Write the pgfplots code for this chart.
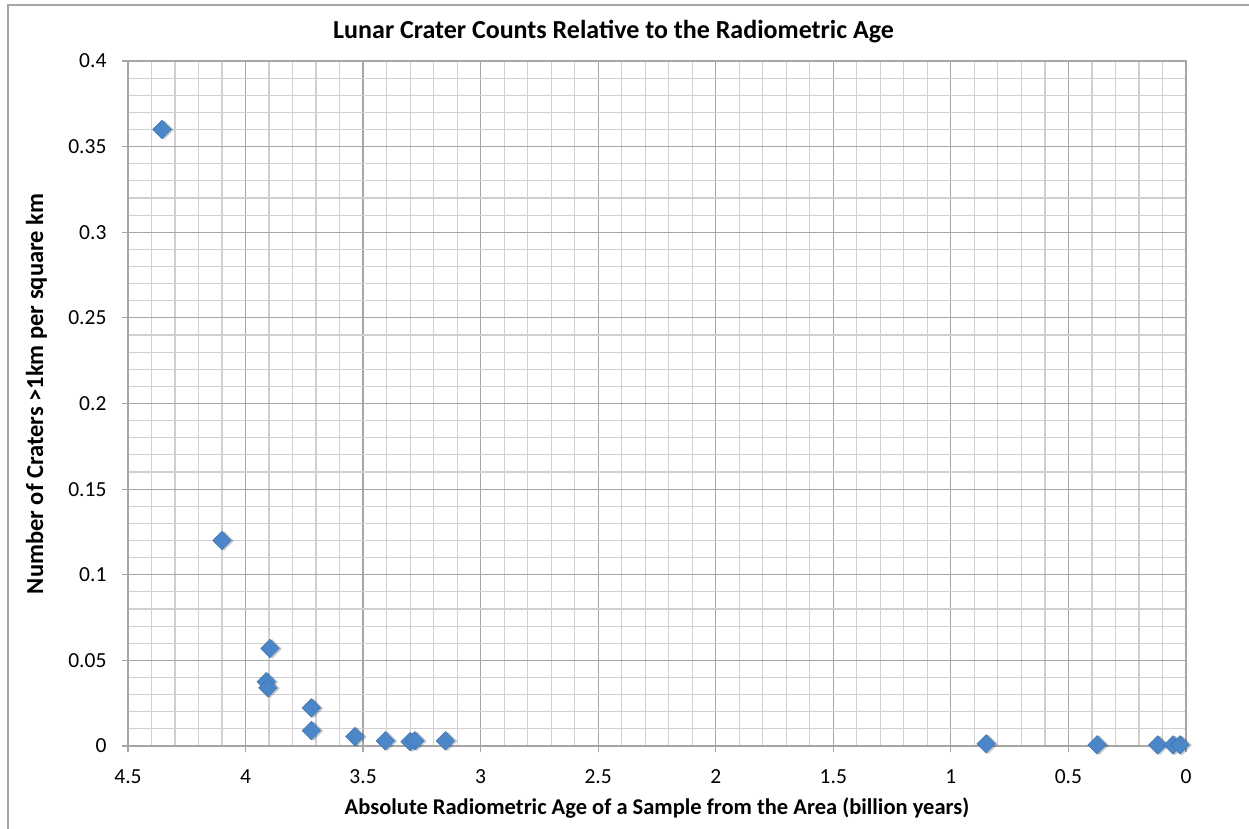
\documentclass[border=0pt]{standalone}
\usepackage{pgfplots}
\pgfplotsset{compat=1.18}
\usepackage{fontspec}
\setmainfont{Carlito}
\definecolor{ptblue}{HTML}{4A86C8}
\definecolor{majgrid}{HTML}{A6A6A6}
\definecolor{mingrid}{HTML}{D0D0D0}
\begin{document}
\begin{tikzpicture}
\useasboundingbox (0,0) rectangle (1249pt,829pt);
\draw[color=majgrid,line width=1.5pt] (8pt,0) -- (8pt,824pt) -- (1249pt,824pt);
\begin{axis}[
  at={(128pt,83pt)}, anchor=south west,
  scale only axis, width=1058pt, height=685pt,
  x dir=reverse,
  xmin=0, xmax=4.5, ymin=0, ymax=0.4,
  xtick={0,0.5,...,4.5},
  ytick={0,0.05,...,0.4},
  minor x tick num=4, minor y tick num=4,
  xticklabels={0,0.5,1,1.5,2,2.5,3,3.5,4,4.5},
  yticklabels={0,0.05,0.1,0.15,0.2,0.25,0.3,0.35,0.4},
  grid=both,
  major grid style={color=majgrid,line width=1.2pt},
  minor grid style={color=mingrid,line width=1.2pt},
  axis line style={color=majgrid,line width=1.5pt},
  tick style={color=majgrid,line width=1.2pt},
  minor tick style={draw=none},
  tick align=outside, major tick length=6pt,
  xtick pos=bottom, ytick pos=left,
  tick label style={font=\fontsize{21.5}{24}\selectfont},
  xticklabel style={yshift=-14pt},
  yticklabel style={xshift=-12pt},
  /pgf/number format/assume math mode=true,
  xlabel={Absolute Radiometric Age of a Sample from the Area (billion years)},
  ylabel={Number of Craters >1km per square km},
  xlabel style={font=\bfseries\fontsize{22.5}{26}\selectfont, at={(axis description cs:0.5,-0.0905)}, anchor=center},
  ylabel style={font=\bfseries\fontsize{24.5}{28}\selectfont, at={(axis description cs:-0.0866,0.514)}, anchor=center},
  title={Lunar Crater Counts Relative to the Radiometric Age},
  title style={font=\bfseries\fontsize{26}{30}\selectfont, at={(axis description cs:0.459,1.045)}, anchor=center, yshift=-7pt},
  clip=false,
]
\addplot[only marks, mark=square*, mark size=6.6pt,
  mark options={rotate=45, fill=black, draw=none, opacity=0.18, xshift=1.2pt, yshift=-1.8pt}]
  table {
x y
4.355 0.360
4.10 0.120
3.896 0.0570
3.912 0.0375
3.905 0.0340
3.72 0.0222
3.72 0.0090
3.535 0.0055
3.405 0.0030
3.30 0.0025
3.28 0.0030
3.15 0.0030
0.85 0.0012
0.378 0.0007
0.12 0.0006
0.055 0.0006
0.025 0.0006
};
\addplot[only marks, mark=square*, mark size=6.6pt,
  mark options={rotate=45, fill=ptblue, draw=ptblue!85!black, line width=0.4pt}]
  table {
x y
4.355 0.360
4.10 0.120
3.896 0.0570
3.912 0.0375
3.905 0.0340
3.72 0.0222
3.72 0.0090
3.535 0.0055
3.405 0.0030
3.30 0.0025
3.28 0.0030
3.15 0.0030
0.85 0.0012
0.378 0.0007
0.12 0.0006
0.055 0.0006
0.025 0.0006
};
\end{axis}
\end{tikzpicture}
\end{document}
